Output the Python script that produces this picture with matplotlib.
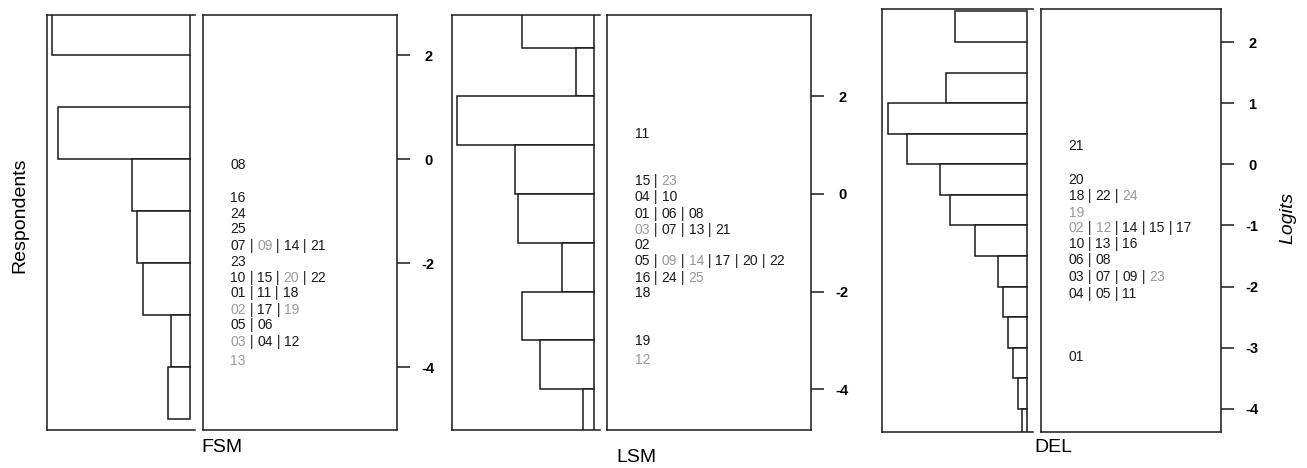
import numpy as np
import matplotlib
matplotlib.use("Agg")
import matplotlib.pyplot as plt

plt.rcParams['font.family'] = ['Liberation Sans', 'DejaVu Sans']

# --- datos ---
# histogramas de respondientes (techo de cada intervalo, frecuencia relativa)
fsm_bin_top = [3, 2, 1, 0, -1, -2, -3, -4]
fsm_freq = [13.8, 0, 13.2, 5.8, 5.3, 4.7, 1.9, 2.2]
lsm_bin_top = [4, 3, 2, 1, 0, -1, -2, -3, -4]
lsm_freq = [7.2, 1.8, 13.7, 7.9, 7.6, 3.2, 7.2, 5.4, 1.1]
del_bin_top = [2.5, 2, 1.5, 1, 0.5, 0, -0.5, -1, -1.5, -2, -2.5, -3, -3.5, -4]
del_freq = [7.2, 0, 8.1, 13.9, 12.0, 8.7, 7.7, 5.2, 2.9, 2.4, 1.9, 1.4, 0.9, 0.5]

# items (filas de etiquetas) y su posicion en logits
fsm_rows = [["08"], ["16"], ["24"], ["25"], ["07", "09", "14", "21"], ["23"],
            ["10", "15", "20", "22"], ["01", "11", "18"], ["02", "17", "19"],
            ["05", "06"], ["03", "04", "12"], ["13"]]
fsm_row_logits = [-0.12, -0.74, -1.05, -1.35, -1.67, -1.97, -2.28, -2.58, -2.90, -3.19, -3.51, -3.88]
fsm_gray = ["09", "20", "02", "19", "03", "13"]

lsm_rows = [["11"], ["15", "23"], ["04", "10"], ["01", "06", "08"], ["03", "07", "13", "21"],
            ["02"], ["05", "09", "14", "17", "20", "22"], ["16", "24", "25"], ["18"],
            ["19"], ["12"]]
lsm_row_logits = [1.24, 0.26, -0.07, -0.41, -0.73, -1.04, -1.38, -1.72, -2.03, -3.02, -3.40]
lsm_gray = ["23", "03", "09", "14", "25", "12"]

del_rows = [["21"], ["20"], ["18", "22", "24"], ["19"], ["02", "12", "14", "15", "17"],
            ["10", "13", "16"], ["06", "08"], ["03", "07", "09", "23"], ["04", "05", "11"],
            ["01"]]
del_row_logits = [0.30, -0.25, -0.52, -0.80, -1.05, -1.31, -1.57, -1.84, -2.12, -3.16]
del_gray = ["24", "19", "02", "12", "23"]

fsm_ticks = [2, 0, -2, -4]
lsm_ticks = [2, 0, -2, -4]
del_ticks = [2, 1, 0, -1, -2, -3, -4]

W, H = 1307, 468
LC = '#1a1a1a'
GRAY = '#9a9a9a'
LW = 1.1

fig = plt.figure(figsize=(W / 100, H / 100), dpi=100)


def px_axes(x0, y0, x1, y1):
    # crea ejes a partir de coordenadas en pixeles (origen arriba a la izquierda)
    return fig.add_axes([x0 / W, 1 - y1 / H, (x1 - x0) / W, (y1 - y0) / H])


def draw_panel(hist_box, text_box, ylim, bin_top, freq, bin_w, xlim,
               rows, row_logits, gray, ticks, text_x, name, name_xy):
    # histograma horizontal (barras hacia la izquierda)
    ah = px_axes(*hist_box)
    centers = np.array(bin_top) - bin_w / 2
    ah.barh(centers, freq, height=bin_w, left=0, facecolor='white',
            edgecolor=LC, linewidth=LW)
    ah.set_xlim(*xlim)
    ah.set_ylim(*ylim)
    ah.set_xticks([])
    ah.set_yticks([])
    ah.spines['right'].set_visible(False)
    for s in ['left', 'top', 'bottom']:
        ah.spines[s].set_linewidth(LW)
        ah.spines[s].set_color(LC)

    # caja de items con eje de logits a la derecha
    at = px_axes(*text_box)
    at.set_ylim(*ylim)
    at.set_xlim(0, 1)
    at.set_xticks([])
    at.yaxis.tick_right()
    at.set_yticks(ticks)
    at.set_yticklabels([str(t) for t in ticks], fontsize=10.5, fontweight='bold')
    at.tick_params(axis='y', length=9.5, width=LW, color=LC, pad=13)
    for lab in at.get_yticklabels():
        lab.set_horizontalalignment('center')
    for s in at.spines.values():
        s.set_linewidth(LW)
        s.set_color(LC)

    trans = at.get_yaxis_transform()
    for row, yv in zip(rows, row_logits):
        prev = None
        for i, tok in enumerate(row):
            pieces = []
            if i > 0:
                pieces.append((" | ", LC))
            pieces.append((tok, GRAY if tok in gray else LC))
            for txt, col in pieces:
                if prev is None:
                    prev = at.annotate(txt, xy=(text_x, yv), xycoords=trans,
                                       ha='left', va='center', fontsize=10, color=col)
                else:
                    prev = at.annotate(txt, xy=(1, 0), xycoords=prev,
                                       ha='left', va='bottom', fontsize=10, color=col)

    fig.text(name_xy[0] / W, 1 - name_xy[1] / H, name, fontsize=14,
             ha='center', va='center')
    return at


draw_panel((47, 15, 195, 430), (203, 15, 397, 430), (-5.21, 2.77),
           fsm_bin_top, fsm_freq, 1.0, (14.3, -0.5),
           fsm_rows, fsm_row_logits, fsm_gray, fsm_ticks, 0.14, "FSM", (222, 447))
draw_panel((452, 15, 600, 430), (607, 15, 811, 430), (-4.84, 3.67),
           lsm_bin_top, lsm_freq, 1.0, (14.2, -0.6),
           lsm_rows, lsm_row_logits, lsm_gray, lsm_ticks, 0.137, "LSM", (636, 457))
draw_panel((882, 9, 1033, 432), (1041, 9, 1221, 432), (-4.38, 2.54),
           del_bin_top, del_freq, 0.5, (14.5, -0.63),
           del_rows, del_row_logits, del_gray, del_ticks, 0.153, "DEL", (1053, 448))

fig.text(20 / W, 1 - 215 / H, "Respondents", rotation=90, fontsize=14,
         ha='center', va='center')
fig.text(1288 / W, 1 - 218 / H, "Logits", rotation=90, fontsize=14,
         style='italic', ha='center', va='center')

fig.savefig("out.png", dpi=100, facecolor='white')
